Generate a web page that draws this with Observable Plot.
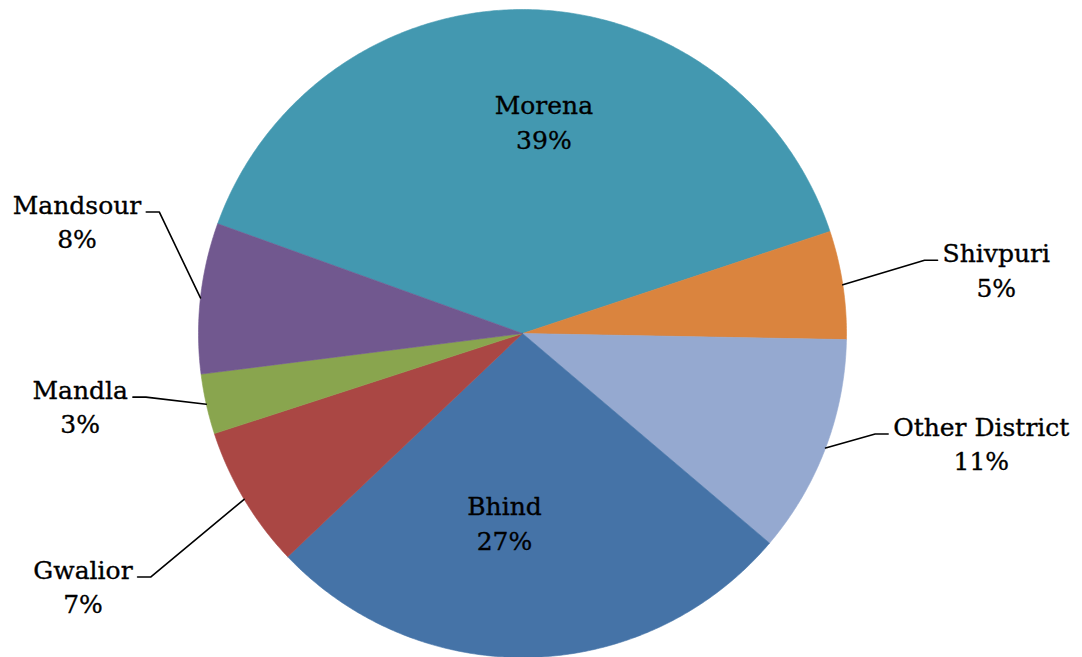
<!DOCTYPE html>
<html><head><meta charset="utf-8">
<script src="https://cdn.jsdelivr.net/npm/d3@7"></script>
<script src="https://cdn.jsdelivr.net/npm/@observablehq/plot@0.6"></script>
<style>html,body{margin:0;padding:0;background:#fff;overflow:hidden}</style>
</head><body><div id="chart"></div>
<script>
// ---- data ----
const districts = ["Morena", "Shivpuri", "Other District", "Bhind", "Gwalior", "Mandla", "Mandsour"];
const shares = [39.4, 5.4, 10.9, 26.7, 7.1, 3.0, 7.5];
const colors = ["#4398B0", "#DA843E", "#95A9D0", "#4573A7", "#AA4744", "#89A54E", "#71588F"];

// ---- layout ----
const W = 1082, H = 657, R = 324, CX = 522, CY = 333, START = 289.8;
const labelRadius = [0.661, 1.476, 1.455, 0.583, 1.563, 1.383, 1.419];
const labelAngleShift = [5, 0.8, -7.4, 7.1, 1.0, 3.4, 8];
const FONT_SIZE = 25, FONT = "DejaVu Serif", LINE_H = 1.38;

const total = d3.sum(shares);
const rad = a => a * Math.PI / 180;
const pt = (a, r) => [Math.sin(rad(a)) * r, Math.cos(rad(a)) * r];

const ctx = document.createElement("canvas").getContext("2d");
ctx.font = `${FONT_SIZE}px "${FONT}"`;

const slicePts = [], labels = [], leaders = [];
let acc = START;
districts.forEach((name, i) => {
  const span = shares[i] / total * 360;
  const a0 = acc, a1 = acc + span;
  acc = a1;
  slicePts.push({name, x: 0, y: 0});
  const n = Math.max(2, Math.ceil(span / 0.5));
  for (let k = 0; k <= n; k++) {
    const [x, y] = pt(a0 + span * k / n, 1);
    slicePts.push({name, x, y});
  }
  slicePts.push({name, x: 0, y: 0});
  const mid = (a0 + a1) / 2;
  const [lx, ly] = pt(mid + labelAngleShift[i], labelRadius[i]);
  const pct = Math.round(shares[i] / total * 100);
  labels.push({name, x: lx, y: ly, text: `${name}\n${pct}%`});
  if (labelRadius[i] > 1) {
    const hw = ctx.measureText(name).width / 2 / R;
    const [sx, sy] = pt(mid, 1);
    const side = lx > 0 ? -1 : 1;
    const yy = ly + 8 / R;
    leaders.push({name, x: sx, y: sy});
    leaders.push({name, x: lx + side * (hw + 18 / R), y: yy});
    leaders.push({name, x: lx + side * (hw + 5 / R), y: yy});
  }
});

const chart = Plot.plot({
  width: W, height: H, margin: 0,
  x: {domain: [-CX / R, (W - CX) / R], axis: null},
  y: {domain: [-(H - CY) / R, CY / R], axis: null},
  color: {domain: districts, range: colors},
  style: {background: "#fff"},
  marks: [
    Plot.line(slicePts, {x: "x", y: "y", z: "name", fill: "name", stroke: "name", strokeWidth: 0.6}),
    Plot.line(leaders, {x: "x", y: "y", z: "name", stroke: "#000", strokeWidth: 1.6}),
    Plot.text(labels, {x: "x", y: "y", text: "text", fontSize: FONT_SIZE, fontFamily: FONT, lineHeight: LINE_H, fill: "#000", stroke: "#000", strokeWidth: 0.35, textAnchor: "middle"})
  ]
});
document.getElementById("chart").appendChild(chart);
</script>
</body></html>
